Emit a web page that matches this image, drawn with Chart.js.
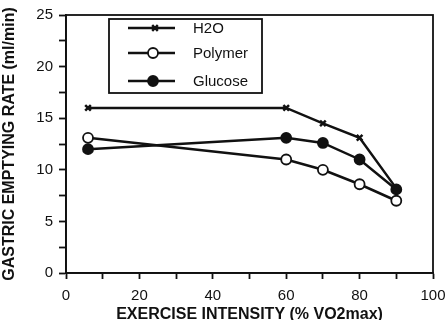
<!DOCTYPE html>
<html>
<head>
<meta charset="utf-8">
<script src="https://cdn.jsdelivr.net/npm/chart.js@4/dist/chart.umd.min.js"></script>
<style>
  html, body { margin: 0; padding: 0; background: #fff; }
  #wrap { width: 447px; height: 320px; }
</style>
</head>
<body>
<div id="wrap"><canvas id="chart" width="447" height="320"></canvas></div>
<script>
// values
const intensity = [6, 60, 70, 80, 90];
const h2o     = [16.0, 16.0, 14.5, 13.1, 8.2];
const polymer = [13.1, 11.0, 10.0, 8.6, 7.0];
const glucose = [12.0, 13.1, 12.6, 11.0, 8.1];
const seriesNames = ["H2O", "Polymer", "Glucose"];

const font = "'Liberation Sans', Arial, Helvetica, sans-serif";

const pts = arr => arr.map((v, i) => ({ x: intensity[i], y: v }));

const styles = [
  { pointStyle: "crossRot", bg: "#111", r: 4 },
  { pointStyle: "circle", bg: "#fff", r: 5 },
  { pointStyle: "circle", bg: "#111", r: 5 }
];

const datasets = [h2o, polymer, glucose].map((arr, i) => ({
  label: seriesNames[i],
  data: pts(arr),
  borderColor: "#111",
  borderWidth: 2.5,
  pointStyle: styles[i].pointStyle,
  pointRadius: styles[i].r,
  pointBackgroundColor: styles[i].bg,
  pointBorderColor: "#111",
  pointBorderWidth: i === 0 ? 2.5 : 1.8,
  tension: 0
}));

// frame around plot + boxed legend inside the plot
const framePlugin = {
  id: "frame",
  afterDraw(chart) {
    const { ctx, chartArea: a } = chart;
    ctx.save();
    ctx.strokeStyle = "#111";
    ctx.lineWidth = 1.8;
    ctx.strokeRect(a.left, a.top, a.right - a.left, a.bottom - a.top);

    const bx = 109, by = 19, bw = 153, bh = 74;
    ctx.fillStyle = "#fff";
    ctx.fillRect(bx, by, bw, bh);
    ctx.strokeRect(bx, by, bw, bh);

    const rows = [28, 53, 81];
    ctx.font = "15px " + font;
    ctx.textBaseline = "middle";
    datasets.forEach((d, i) => {
      const y = rows[i];
      ctx.strokeStyle = "#111";
      ctx.lineWidth = 2.5;
      ctx.beginPath();
      ctx.moveTo(128, y);
      ctx.lineTo(175, y);
      ctx.stroke();
      ctx.lineWidth = d.pointBorderWidth;
      ctx.fillStyle = d.pointBackgroundColor;
      Chart.helpers.drawPoint(ctx, {
        pointStyle: d.pointStyle, radius: d.pointRadius, borderWidth: d.pointBorderWidth
      }, i === 0 ? 155 : 153, y);
      ctx.fillStyle = "#111";
      ctx.fillText(d.label, 193, y + 1);
    });
    ctx.restore();
  }
};

new Chart(document.getElementById("chart"), {
  type: "line",
  data: { datasets },
  options: {
    responsive: false,
    animation: false,
    layout: { padding: { top: 15, right: 14, left: 0, bottom: 0 } },
    plugins: { legend: { display: false }, tooltip: { enabled: false } },
    scales: {
      x: {
        type: "linear",
        min: 0, max: 100,
        afterFit: s => { s.height = 47; s.paddingLeft = 0; s.paddingRight = 0; },
        ticks: {
          stepSize: 10,
          color: "#111",
          font: { family: font, size: 15 },
          padding: 8,
          maxRotation: 0,
          callback: v => (v % 20 === 0 ? v : "")
        },
        grid: { drawOnChartArea: false, tickLength: 6, tickColor: "#111", tickWidth: 1.8 },
        border: { color: "#111", width: 1.8 },
        title: {
          display: true,
          text: "EXERCISE INTENSITY (% VO2max)",
          color: "#111",
          font: { family: font, size: 16, weight: "bold" },
          padding: { top: 0, bottom: -4 }
        }
      },
      y: {
        min: 0, max: 25,
        afterFit: s => { s.width = 66; s.paddingTop = 0; s.paddingBottom = 0; },
        ticks: {
          stepSize: 2.5,
          color: "#111",
          font: { family: font, size: 15 },
          padding: 6,
          callback: v => (v % 5 === 0 ? v : "")
        },
        grid: { drawOnChartArea: false, tickLength: 7, tickColor: "#111", tickWidth: 1.8 },
        border: { color: "#111", width: 1.8 },
        title: {
          display: true,
          text: "GASTRIC EMPTYING RATE (ml/min)",
          color: "#111",
          font: { family: font, size: 16, weight: "bold" },
          padding: { top: 0, bottom: 0 }
        }
      }
    }
  },
  plugins: [framePlugin]
});
</script>
</body>
</html>
